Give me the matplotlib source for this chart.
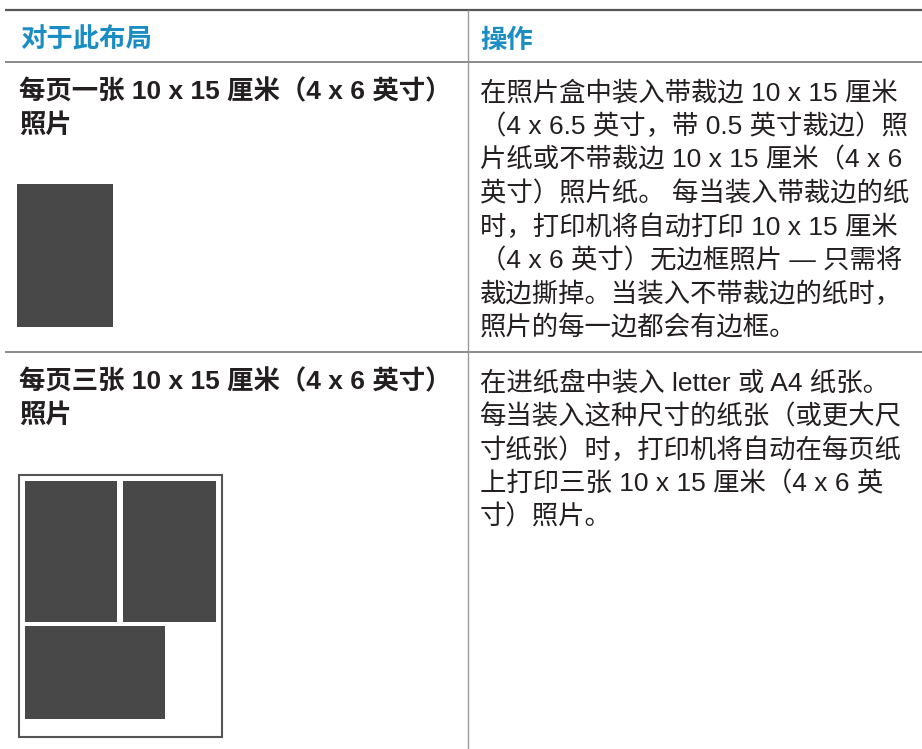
import matplotlib.pyplot as plt
from matplotlib.patches import Rectangle

plt.rcParams['font.family'] = ['Liberation Sans', 'Noto Sans CJK SC', 'DejaVu Sans']

# table content
headers = ['对于此布局', '操作']
layout_lines = [
    ['每页一张 10 x 15 厘米（4 x 6 英寸）', '照片'],
    ['每页三张 10 x 15 厘米（4 x 6 英寸）', '照片'],
]
action_lines = [
    ['在照片盒中装入带裁边 10 x 15 厘米',
     '（4 x 6.5 英寸，带 0.5 英寸裁边）照',
     '片纸或不带裁边 10 x 15 厘米（4 x 6',
     '英寸）照片纸。 每当装入带裁边的纸',
     '时，打印机将自动打印 10 x 15 厘米',
     '（4 x 6 英寸）无边框照片 — 只需将',
     '裁边撕掉。当装入不带裁边的纸时，',
     '照片的每一边都会有边框。'],
    ['在进纸盘中装入 letter 或 A4 纸张。',
     '每当装入这种尺寸的纸张（或更大尺',
     '寸纸张）时，打印机将自动在每页纸',
     '上打印三张 10 x 15 厘米（4 x 6 英',
     '寸）照片。'],
]

W, H = 922, 749
fig = plt.figure(figsize=(W / 100, H / 100), dpi=100)
ax = fig.add_axes([0, 0, 1, 1])
ax.set_xlim(0, W)
ax.set_ylim(H, 0)
ax.axis('off')

text_col = '#231f20'
blue = '#1a8ec4'
fs = 19
step = 33.6

# rules
ax.plot([5, W], [10, 10], color='#555555', lw=1.6, solid_capstyle='butt')
ax.plot([5, W], [62, 62], color='#777777', lw=1.2, solid_capstyle='butt')
ax.plot([5, W], [352, 352], color='#777777', lw=1.2, solid_capstyle='butt')
ax.plot([468, 468], [10, H], color='#999999', lw=1.0, solid_capstyle='butt')

# header
ax.text(20, 48, headers[0], color=blue, fontsize=fs, fontweight='bold', va='baseline')
ax.text(480, 48, headers[1], color=blue, fontsize=fs, fontweight='bold', va='baseline')

row_top = [99.5, 389.5]
for r in range(2):
    for i, s in enumerate(layout_lines[r]):
        ax.text(19, row_top[r] + i * step, s, color=text_col, fontsize=fs,
                fontweight='bold', va='baseline')
    for i, s in enumerate(action_lines[r]):
        ax.text(480, row_top[r] + 1 + i * step, s, color=text_col, fontsize=fs,
                va='baseline')

# layout icons
dark = '#484848'
ax.add_patch(Rectangle((17, 184), 96, 143, facecolor=dark, edgecolor='none'))
ax.add_patch(Rectangle((19, 475), 203, 262, facecolor='white', edgecolor='#555555', lw=1.5))
ax.add_patch(Rectangle((25, 481), 92, 141, facecolor=dark, edgecolor='none'))
ax.add_patch(Rectangle((123, 481), 93, 141, facecolor=dark, edgecolor='none'))
ax.add_patch(Rectangle((25, 626), 140, 93, facecolor=dark, edgecolor='none'))

fig.savefig('out.png', dpi=100)
